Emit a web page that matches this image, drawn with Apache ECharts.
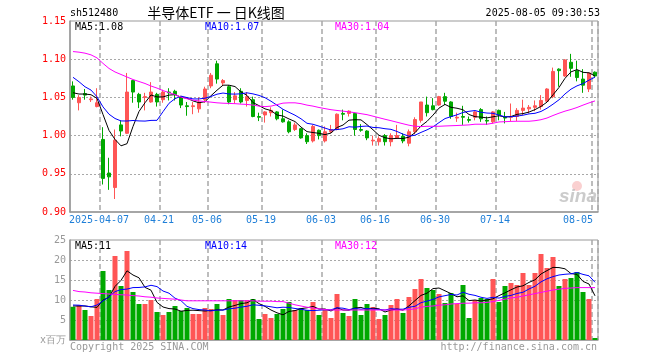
<!DOCTYPE html>
<html><head><meta charset="utf-8">
<script src="https://cdn.jsdelivr.net/npm/echarts@6/dist/echarts.min.js"></script>
<style>html,body{margin:0;padding:0;background:#fff}#c{width:660px;height:360px}</style>
</head><body><div id="c"></div>
<script>
const dates = ['03-28','03-31','04-01','04-02','04-03','04-07','04-08','04-09','04-10','04-11',
 '04-14','04-15','04-16','04-17','04-18','04-21','04-22','04-23','04-24','04-25',
 '04-28','04-29','04-30','05-06','05-07','05-08','05-09','05-12','05-13','05-14',
 '05-15','05-16','05-19','05-20','05-21','05-22','05-23','05-26','05-27','05-28',
 '05-29','05-30','06-03','06-04','06-05','06-06','06-09','06-10','06-11','06-12',
 '06-13','06-16','06-17','06-18','06-19','06-20','06-23','06-24','06-25','06-26',
 '06-27','06-30','07-01','07-02','07-03','07-04','07-07','07-08','07-09','07-10',
 '07-11','07-14','07-15','07-16','07-17','07-18','07-21','07-22','07-23','07-24',
 '07-25','07-28','07-29','07-30','07-31','08-01','08-04','08-05'];
const tickDates = ['04-07','04-21','05-06','05-19','06-03','06-16','06-30','07-14','08-05'];
const tickLabels = ['2025-04-07','04-21','05-06','05-19','06-03','06-16','06-30','07-14','08-05'];
const priceTicks = [0.90, 0.95, 1.00, 1.05, 1.10, 1.15];
const volTicks = [0, 5, 10, 15, 20, 25];

const open = [1.065,1.043,1.055,1.047,1.038,0.995,0.951,0.932,1.014,1.003,
 1.072,1.054,1.050,1.044,1.054,1.047,1.057,1.058,1.051,1.039,
 1.038,1.035,1.047,1.065,1.094,1.069,1.064,1.047,1.058,1.046,
 1.047,1.025,1.027,1.030,1.031,1.022,1.018,1.008,1.009,1.000,
 0.993,1.007,0.993,1.005,1.008,1.029,1.029,1.029,1.008,1.006,
 0.993,0.992,1.000,0.992,0.997,0.999,0.990,1.005,1.020,1.040,
 1.039,1.040,1.051,1.044,1.023,1.025,1.021,1.024,1.034,1.020,
 1.018,1.033,1.024,1.024,1.025,1.033,1.035,1.037,1.038,1.045,
 1.051,1.087,1.078,1.096,1.085,1.074,1.061,1.083];
const close = [1.050,1.050,1.053,1.048,1.043,0.944,0.946,0.994,1.006,1.057,
 1.057,1.044,1.051,1.057,1.044,1.057,1.056,1.054,1.040,1.038,
 1.039,1.044,1.061,1.079,1.074,1.072,1.044,1.052,1.044,1.051,
 1.025,1.024,1.031,1.033,1.022,1.018,1.005,1.014,0.997,0.992,
 1.012,1.000,1.005,1.008,1.028,1.028,1.032,1.008,1.007,0.997,
 0.994,0.996,0.992,1.000,1.000,0.993,1.005,1.021,1.044,1.030,
 1.034,1.051,1.045,1.025,1.024,1.024,1.020,1.031,1.022,1.019,
 1.031,1.027,1.023,1.025,1.033,1.036,1.037,1.039,1.046,1.061,
 1.084,1.085,1.099,1.088,1.076,1.066,1.082,1.078];
const low = [1.047,1.033,1.047,1.044,1.037,0.936,0.929,0.917,0.999,1.002,
 1.043,1.036,1.033,1.043,1.038,1.043,1.046,1.046,1.036,1.026,
 1.028,1.030,1.043,1.062,1.068,1.066,1.041,1.042,1.042,1.038,
 1.024,1.019,1.017,1.025,1.020,1.017,1.003,1.006,0.996,0.989,
 0.991,0.995,0.991,1.003,1.007,1.020,1.025,1.000,1.005,0.994,
 0.987,0.987,0.987,0.986,0.996,0.990,0.986,1.002,1.017,1.025,
 1.033,1.039,1.040,1.022,1.018,1.014,1.017,1.020,1.018,1.014,
 1.016,1.020,1.016,1.019,1.019,1.027,1.029,1.032,1.034,1.044,
 1.049,1.064,1.077,1.077,1.071,1.056,1.057,1.077];
const high = [1.071,1.053,1.061,1.051,1.062,1.011,0.971,1.008,1.020,1.082,
 1.073,1.056,1.056,1.070,1.056,1.060,1.062,1.060,1.052,1.044,
 1.044,1.050,1.064,1.082,1.098,1.074,1.066,1.057,1.062,1.057,
 1.051,1.030,1.032,1.037,1.032,1.034,1.020,1.017,1.010,1.003,
 1.014,1.008,1.012,1.014,1.029,1.034,1.033,1.030,1.015,1.007,
 1.000,0.999,1.002,1.003,1.014,1.003,1.008,1.024,1.044,1.051,
 1.049,1.052,1.056,1.045,1.030,1.039,1.025,1.032,1.036,1.025,
 1.032,1.034,1.031,1.042,1.036,1.047,1.040,1.046,1.053,1.062,
 1.089,1.088,1.100,1.107,1.098,1.087,1.082,1.084];

const ma5 = [1.0561,1.0544,1.0544,1.0535,1.0488,1.0276,1.0068,0.9950,0.9866,0.9894,
 1.0120,1.0316,1.0430,1.0532,1.0506,1.0506,1.0530,1.0536,1.0502,1.0490,
 1.0454,1.0430,1.0444,1.0522,1.0594,1.0660,1.0660,1.0642,1.0572,1.0526,
 1.0432,1.0392,1.0350,1.0328,1.0270,1.0256,1.0218,1.0184,1.0112,1.0052,
 1.0040,1.0030,1.0012,1.0034,1.0106,1.0138,1.0202,1.0208,1.0206,1.0144,
 1.0076,1.0004,0.9972,0.9958,0.9964,0.9962,0.9980,1.0038,1.0126,1.0186,
 1.0268,1.0360,1.0408,1.0370,1.0358,1.0338,1.0276,1.0248,1.0242,1.0232,
 1.0246,1.0260,1.0244,1.0250,1.0278,1.0288,1.0308,1.0340,1.0382,1.0438,
 1.0534,1.0630,1.0750,1.0834,1.0864,1.0828,1.0822,1.0780];
const ma10 = [1.0763,1.0705,1.0639,1.0596,1.0508,1.0376,1.0280,1.0224,1.0192,1.0191,
 1.0198,1.0192,1.0190,1.0199,1.0200,1.0313,1.0423,1.0483,1.0517,1.0498,
 1.0480,1.0480,1.0490,1.0512,1.0542,1.0557,1.0545,1.0543,1.0547,1.0560,
 1.0546,1.0526,1.0496,1.0450,1.0398,1.0344,1.0305,1.0267,1.0220,1.0161,
 1.0148,1.0124,1.0098,1.0073,1.0079,1.0089,1.0116,1.0110,1.0120,1.0125,
 1.0107,1.0103,1.0090,1.0082,1.0054,1.0019,0.9992,1.0005,1.0042,1.0075,
 1.0115,1.0170,1.0223,1.0248,1.0272,1.0303,1.0318,1.0328,1.0306,1.0295,
 1.0292,1.0268,1.0246,1.0246,1.0255,1.0267,1.0284,1.0292,1.0316,1.0358,
 1.0411,1.0469,1.0545,1.0608,1.0651,1.0681,1.0726,1.0765];
const ma30 = [1.1100,1.1092,1.1079,1.1057,1.1017,1.0945,1.0879,1.0833,1.0800,1.0767,
 1.0734,1.0708,1.0682,1.0649,1.0622,1.0589,1.0563,1.0537,1.0504,1.0482,
 1.0464,1.0454,1.0445,1.0438,1.0429,1.0424,1.0421,1.0418,1.0412,1.0408,
 1.0399,1.0386,1.0379,1.0386,1.0405,1.0425,1.0429,1.0429,1.0418,1.0399,
 1.0386,1.0368,1.0353,1.0339,1.0329,1.0320,1.0311,1.0300,1.0287,1.0274,
 1.0254,1.0234,1.0214,1.0195,1.0175,1.0155,1.0136,1.0122,1.0118,1.0122,
 1.0122,1.0122,1.0126,1.0129,1.0132,1.0136,1.0140,1.0149,1.0149,1.0149,
 1.0162,1.0179,1.0182,1.0186,1.0188,1.0188,1.0188,1.0195,1.0208,1.0230,
 1.0263,1.0293,1.0320,1.0342,1.0368,1.0399,1.0428,1.0454];

const vol = [8.3,8.75,7.5,6.0,10.25,17.25,12.5,21.0,13.5,22.25,
 12.0,9.0,9.0,10.0,7.0,6.25,7.0,8.5,7.25,8.0,
 6.5,6.5,8.0,7.75,9.0,6.25,10.25,10.0,10.0,10.0,
 10.25,5.25,6.5,5.5,6.5,7.75,9.5,7.5,8.0,7.5,
 9.5,6.25,7.5,5.5,11.5,6.75,6.0,10.25,6.25,9.0,
 8.25,5.25,6.25,8.75,10.25,6.75,10.75,12.75,15.25,13.0,
 12.5,11.5,9.25,11.75,9.0,13.75,5.5,10.0,10.5,10.25,
 15.25,9.5,13.5,14.25,13.75,16.75,13.75,16.75,21.5,18.0,
 20.75,13.5,15.25,15.5,17.0,12.0,10.25,0.5];
const vma5 = [8.5,8.5,8.5,8.3,8.16,9.95,10.7,13.4,14.9,17.3,
 16.25,15.55,13.15,12.45,9.4,8.25,7.85,7.75,7.2,7.4,
 7.45,7.35,7.25,7.35,7.55,7.5,8.25,8.65,9.1,9.3,
 10.1,9.1,8.4,7.5,6.8,6.3,7.15,7.35,7.85,8.05,
 8.4,7.75,7.75,7.25,8.05,7.5,7.45,8.0,8.15,7.65,
 7.95,7.8,7.0,7.5,7.75,7.45,8.55,9.85,11.15,11.7,
 12.85,13.0,12.3,11.6,10.8,11.05,9.85,10.0,9.75,10.0,
 10.3,11.1,11.8,12.55,13.25,13.55,14.4,15.05,16.5,17.35,
 18.15,18.1,17.8,16.6,16.4,14.65,14.0,11.05];
const vma10 = [8.75,8.7,8.5,8.3,8.75,9.75,10.8,12.1,12.6,12.73,
 13.1,13.13,13.28,13.68,13.35,12.25,11.7,10.45,9.83,8.4,
 7.85,7.6,7.5,7.28,7.48,7.48,7.8,7.95,8.23,8.43,
 8.8,8.68,8.53,8.3,8.05,8.2,8.13,7.88,7.68,7.43,
 7.35,7.45,7.55,7.55,8.05,7.95,7.6,7.88,7.7,7.85,
 7.73,7.63,7.5,7.83,7.7,7.7,8.18,8.43,9.33,9.73,
 10.15,10.78,11.08,11.38,11.25,11.95,11.43,11.15,10.68,10.4,
 10.68,10.48,10.9,11.15,11.63,11.93,12.75,13.43,14.53,15.3,
 15.85,16.25,16.43,16.55,16.88,16.4,16.05,14.43];
const vma30 = [12.4,12.1,12.0,11.8,11.7,11.6,11.5,11.4,11.3,11.25,
 11.1,11.0,10.8,10.7,10.5,10.4,10.3,10.2,10.0,9.8,
 9.8,9.8,9.8,9.8,9.8,9.8,9.8,9.8,9.8,9.8,
 9.8,9.7,9.7,9.7,9.6,9.6,9.2,8.8,8.5,8.2,
 8.0,7.8,7.6,7.5,7.5,7.5,7.5,7.5,7.5,7.5,
 7.5,7.5,7.5,7.5,7.5,7.5,7.6,7.8,8.2,8.4,
 8.5,8.7,8.8,9.0,9.1,9.2,9.2,9.3,9.3,9.4,
 9.6,9.9,10.2,10.5,10.7,11.0,11.3,11.6,11.9,12.2,
 12.5,12.7,12.9,13.0,13.1,13.1,13.1,13.1];

const UP = '#ff5555', DOWN = '#00a800';
const MONO = '"DejaVu Sans Mono", "Liberation Mono", monospace';
const isTick = (i) => tickDates.indexOf(dates[i]) >= 0;
const ohlc = open.map((o, i) => [o, close[i], low[i], high[i]]);
const volData = vol.map((v, i) => ({ value: v, itemStyle: { color: close[i] >= open[i] ? UP : DOWN } }));

const splitV = { show: true, interval: (i) => isTick(i), lineStyle: { color: '#a8a8a8', type: [5, 3], width: 1.5 } };
const splitH = { show: true, showMinLine: false, showMaxLine: false, lineStyle: { color: '#a8a8a8', type: [2, 2], width: 1 } };

function txt(x, y, text, fill, align, font) {
  return { type: 'text', x: x, y: y, silent: true, z: 100,
    style: { text: text, fill: fill, font: font || ('10px ' + MONO), textAlign: align || 'left', textVerticalAlign: 'middle', align: align || 'left', verticalAlign: 'middle' } };
}
function line(name, data, color, xi, yi) {
  return { name: name, type: 'line', data: data, xAxisIndex: xi, yAxisIndex: yi, symbol: 'none', showSymbol: false,
    lineStyle: { color: color, width: 1 }, itemStyle: { color: color }, z: 5, silent: true };
}

const chart = echarts.init(document.getElementById('c'), null, { renderer: 'canvas' });
chart.setOption({
  animation: false,
  backgroundColor: '#fff',
  grid: [
    { left: 70, top: 21, width: 528, height: 191, show: true, borderColor: '#999', borderWidth: 1, backgroundColor: 'transparent' },
    { left: 70, top: 240, width: 528, height: 100, show: true, borderColor: '#999', borderWidth: 1, backgroundColor: 'transparent' }
  ],
  xAxis: [
    { type: 'category', gridIndex: 0, data: dates, boundaryGap: true,
      axisLine: { lineStyle: { color: '#999', width: 1.5 } }, axisTick: { show: false },
      axisLabel: { interval: (i) => isTick(i),
        formatter: (v) => { const k = tickDates.indexOf(v); return k === tickDates.length - 1 ? '{last|' + tickLabels[k] + '}' : tickLabels[k]; },
        rich: { last: { color: '#1f7fd8', fontFamily: MONO, fontSize: 10, padding: [0, 26, 0, 0] } },
        color: '#1f7fd8', fontFamily: MONO, fontSize: 10, margin: 3, padding: [0, 8, 0, 0] },
      splitLine: splitV },
    { type: 'category', gridIndex: 1, data: dates, boundaryGap: true,
      axisLine: { lineStyle: { color: '#999', width: 1.5 } }, axisTick: { show: false },
      axisLabel: { show: false }, splitLine: splitV }
  ],
  yAxis: [
    { type: 'value', gridIndex: 0, min: priceTicks[0], max: priceTicks[priceTicks.length - 1], interval: 0.05,
      axisLine: { show: true, lineStyle: { color: '#999', width: 1.5 } }, axisTick: { show: false },
      axisLabel: { color: '#ff0000', fontFamily: MONO, fontSize: 10, margin: 4, formatter: (v) => v.toFixed(2) },
      splitLine: splitH },
    { type: 'value', gridIndex: 1, min: volTicks[0], max: volTicks[volTicks.length - 1], interval: 5,
      axisLine: { show: true, lineStyle: { color: '#999', width: 1.5 } }, axisTick: { show: false },
      axisLabel: { color: '#999', fontFamily: MONO, fontSize: 10, margin: 4, formatter: (v) => v === 0 ? 'x百万' : String(v) },
      splitLine: splitH }
  ],
  series: [
    { type: 'candlestick', data: ohlc, xAxisIndex: 0, yAxisIndex: 0, barWidth: 4,
      itemStyle: { color: UP, color0: DOWN, borderColor: UP, borderColor0: DOWN, borderWidth: 1 }, z: 3 },
    line('MA5', ma5, '#000000', 0, 0),
    line('MA10', ma10, '#0000ff', 0, 0),
    line('MA30', ma30, '#ff00ff', 0, 0),
    { type: 'bar', data: volData, xAxisIndex: 1, yAxisIndex: 1, barWidth: 5, z: 3 },
    line('VMA5', vma5, '#000000', 1, 1),
    line('VMA10', vma10, '#0000ff', 1, 1),
    line('VMA30', vma30, '#ff00ff', 1, 1)
  ],
  graphic: [
    txt(70, 13, 'sh512480', '#000'),
    txt(216, 13, '半导体ETF 一 日K线图', '#000', 'center', '14px "Noto Sans CJK SC", sans-serif'),
    txt(600, 13, '2025-08-05 09:30:53', '#000', 'right'),
    txt(75, 27, 'MA5:1.08', '#000'),
    txt(205, 27, 'MA10:1.07', '#0000ff'),
    txt(335, 27, 'MA30:1.04', '#ff00ff'),
    txt(75, 246, 'MA5:11', '#000'),
    txt(205, 246, 'MA10:14', '#0000ff'),
    txt(335, 246, 'MA30:12', '#ff00ff'),
    txt(70, 347, 'Copyright 2025 SINA.COM', '#999'),
    txt(597, 347, 'http://finance.sina.com.cn', '#999', 'right'),
    { type: 'circle', shape: { cx: 577, cy: 186, r: 5 }, style: { fill: 'rgba(240,120,120,0.35)' }, silent: true, z: 1 },
    txt(578, 197, 'sina', 'rgba(190,190,190,0.8)', 'center', 'italic bold 19px "Liberation Sans", sans-serif')
  ]
});
</script>
</body></html>
